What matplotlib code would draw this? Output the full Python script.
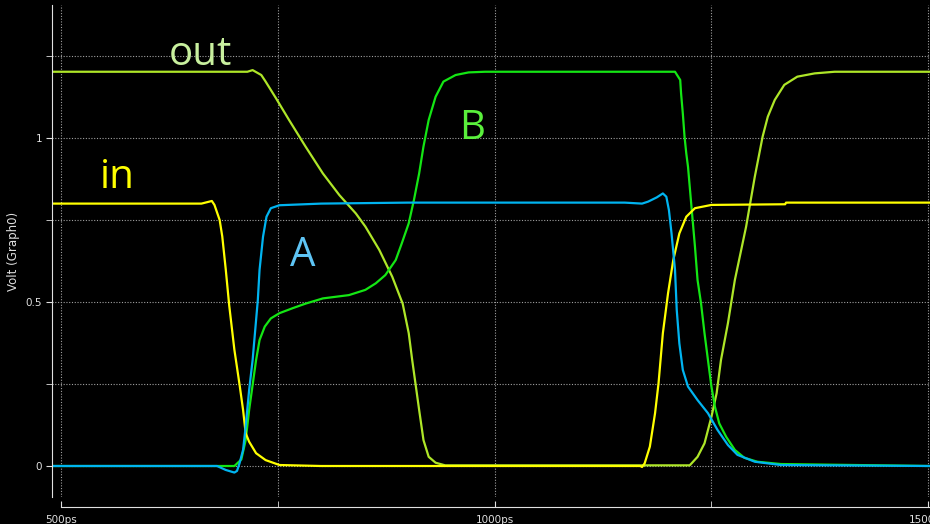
import matplotlib
matplotlib.use('Agg')
import matplotlib.pyplot as plt
from matplotlib.ticker import FixedLocator, FuncFormatter

# waveforms (time in ps, volts)
in_t = [490, 662, 674, 677, 683, 686, 690, 694, 700, 706, 710, 713, 717, 725, 736, 752, 800,
        1168, 1170, 1173, 1179, 1185, 1189, 1194, 1200, 1206, 1213, 1221, 1231, 1250, 1335, 1336, 1502]
in_v = [0.80, 0.80, 0.808, 0.796, 0.75, 0.70, 0.60, 0.49, 0.354, 0.247, 0.171, 0.10, 0.074, 0.039, 0.018, 0.003, 0.0,
        0.0, -0.003, 0.008, 0.059, 0.161, 0.252, 0.405, 0.527, 0.628, 0.709, 0.76, 0.786, 0.796, 0.798, 0.803, 0.803]

out_t = [490, 715, 721, 731, 736, 748, 763, 782, 802, 821, 840, 851, 867, 882, 894, 901, 905, 909, 913, 918,
         924, 932, 943, 1225, 1234, 1242, 1250, 1256, 1261, 1269, 1277, 1290, 1300, 1309, 1315, 1323, 1334,
         1349, 1369, 1392, 1502]
out_v = [1.202, 1.202, 1.207, 1.192, 1.172, 1.121, 1.055, 0.974, 0.892, 0.826, 0.770, 0.73, 0.659, 0.577, 0.495,
         0.405, 0.323, 0.247, 0.171, 0.079, 0.028, 0.01, 0.002, 0.002, 0.028, 0.069, 0.15, 0.222, 0.323, 0.435,
         0.567, 0.73, 0.882, 1.004, 1.065, 1.116, 1.162, 1.187, 1.197, 1.202, 1.202]

a_t = [490, 680, 690, 700, 703, 706, 710, 713, 717, 721, 725, 727, 729, 733, 737, 742, 752, 800, 900, 1150,
       1170, 1177, 1187, 1194, 1198, 1201, 1204, 1208, 1210, 1213, 1217, 1223, 1234, 1246, 1257, 1269, 1280,
       1300, 1330, 1502]
a_v = [0.0, 0.0, -0.012, -0.02, -0.015, 0.009, 0.049, 0.12, 0.232, 0.323, 0.445, 0.506, 0.598, 0.699, 0.76,
       0.786, 0.795, 0.80, 0.803, 0.803, 0.80, 0.806, 0.819, 0.831, 0.821, 0.78, 0.709, 0.598, 0.476, 0.374,
       0.293, 0.242, 0.201, 0.161, 0.11, 0.064, 0.034, 0.013, 0.003, 0.0]

b_t = [490, 700, 708, 713, 717, 721, 725, 729, 735, 742, 752, 767, 782, 802, 832, 851, 863, 874, 886, 893,
       901, 907, 913, 918, 924, 932, 941, 955, 970, 989, 1208, 1214, 1215, 1217, 1219, 1221, 1223, 1225, 1227,
       1231, 1234, 1238, 1242, 1246, 1250, 1254, 1259, 1267, 1277, 1288, 1303, 1330, 1502]
b_v = [0.0, 0.0, 0.02, 0.079, 0.171, 0.247, 0.323, 0.384, 0.425, 0.45, 0.466, 0.481, 0.495, 0.511, 0.521,
       0.537, 0.557, 0.582, 0.628, 0.679, 0.74, 0.811, 0.892, 0.974, 1.055, 1.126, 1.172, 1.192, 1.2, 1.202,
       1.202, 1.177, 1.136, 1.075, 1.004, 0.953, 0.912, 0.851, 0.79, 0.669, 0.567, 0.496, 0.405, 0.323, 0.242,
       0.181, 0.13, 0.089, 0.049, 0.025, 0.013, 0.006, 0.0]

labels = ['out', 'in', 'A', 'B']
label_t = [624, 545, 764, 959]
label_v = [1.223, 0.848, 0.61, 0.997]

x_major = [500, 1000, 1500]
x_minor = [750, 1250]
y_major = [0, 0.5, 1]
y_minor = [0.25, 0.75, 1.25]

line_colors = {'out': '#aee628', 'B': '#14e614', 'in': '#ffff00', 'A': '#00b4f0'}
text_colors = {'out': '#c8f09e', 'B': '#5af03c', 'in': '#ffff00', 'A': '#5ec4f4'}

fig = plt.figure(figsize=(9.3, 5.24), dpi=100, facecolor='black')
ax = fig.add_axes([52 / 930, 27 / 524, 878 / 930, 492 / 524], facecolor='black')

ax.plot(out_t, out_v, color=line_colors['out'], lw=1.6)
ax.plot(b_t, b_v, color=line_colors['B'], lw=1.6)
ax.plot(in_t, in_v, color=line_colors['in'], lw=1.6)
ax.plot(a_t, a_v, color=line_colors['A'], lw=1.6)

for name, t, v in zip(labels, label_t, label_v):
    ax.text(t, v, name, color=text_colors[name], fontsize=29, family='Open Sans', va='baseline')

ax.set_xlim(489.7, 1502)
ax.set_ylim(-0.0945, 1.4055)

ax.xaxis.set_major_locator(FixedLocator(x_major))
ax.xaxis.set_minor_locator(FixedLocator(x_minor))
ax.xaxis.set_major_formatter(FuncFormatter(lambda x, pos: f'{x:.0f}ps'))
ax.yaxis.set_major_locator(FixedLocator(y_major))
ax.yaxis.set_minor_locator(FixedLocator(y_minor))
ax.yaxis.set_major_formatter(FuncFormatter(lambda y, pos: f'{y:g}'))

ax.grid(which='both', color='#a0a0a0', linestyle=(0, (1, 1.5)), linewidth=0.8)

for side in ['top', 'right']:
    ax.spines[side].set_visible(False)
ax.spines['left'].set_color('#e0e0e0')
ax.spines['bottom'].set_color('#e0e0e0')
ax.spines['bottom'].set_position(('outward', 7))
ax.spines['bottom'].set_bounds(500, 1502)

ax.tick_params(axis='x', which='both', direction='in', length=4, color='#e0e0e0',
               labelcolor='#e0e0e0', labelsize=7.5, pad=6)
ax.tick_params(axis='y', which='both', direction='out', length=4, color='#e0e0e0',
               labelcolor='#e0e0e0', labelsize=7.5, pad=3)
ax.set_ylabel('Volt (Graph0)', color='#e0e0e0', fontsize=8.5, labelpad=4)

fig.savefig('out.png', dpi=100, facecolor='black')
